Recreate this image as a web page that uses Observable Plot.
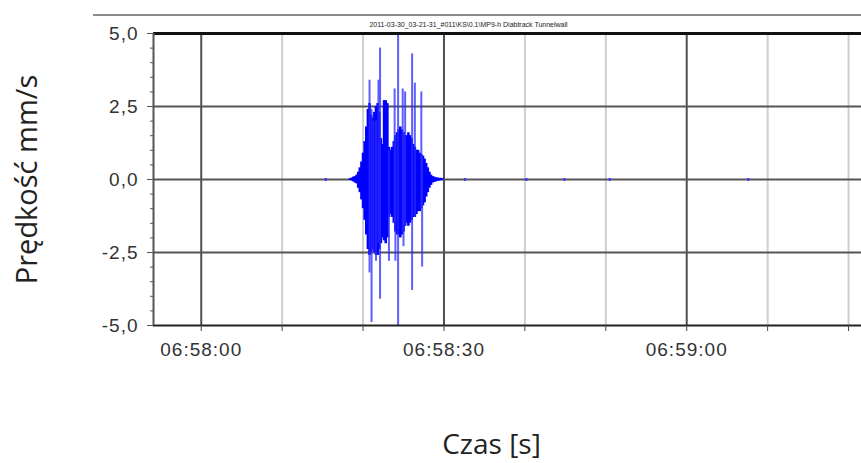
<!DOCTYPE html>
<html>
<head>
<meta charset="utf-8">
<script src="https://cdn.jsdelivr.net/npm/d3@7"></script>
<script src="https://cdn.jsdelivr.net/npm/@observablehq/plot@0.6"></script>
<style>
  html, body { margin: 0; padding: 0; background: #fff; }
  g[aria-label$="tick label"] text { letter-spacing: 1px; }
</style>
</head>
<body>
<div id="chart"></div>
<script>
// ---- data (seconds after 06:58:00) ----
const chartTitle = "2011-03-30_03-21-31_#011\\KS\\0.1\\MP9-h Diabtrack Tunnelwall";
const yTitle = "Prędkość mm/s";
const xTitle = "Czas [s]";

const burstSec   = [18.4, 18.6, 18.8, 19.0, 19.2, 19.4, 19.6, 19.8, 20.0, 20.2, 20.4, 20.6, 20.8, 21.0, 21.2, 21.4, 21.6, 21.8, 22.0, 22.2, 22.4, 22.6, 22.8, 23.0, 23.2, 23.4, 23.6, 23.8, 24.0, 24.2, 24.4, 24.6, 24.8, 25.0, 25.2, 25.4, 25.6, 25.8, 26.0, 26.2, 26.4, 26.6, 26.8, 27.0, 27.2, 27.4, 27.6, 27.8, 28.0, 28.2, 28.4, 28.6, 28.8, 29.0, 29.2, 29.4, 29.6, 29.8];
const burstUpper = [0.03, 0.05, 0.08, 0.10, 0.15, 0.25, 0.40, 0.60, 0.90, 1.30, 1.80, 2.40, 2.60, 2.20, 2.10, 2.30, 2.50, 2.60, 2.30, 1.40, 1.20, 2.70, 2.70, 2.60, 1.10, 1.00, 1.10, 1.30, 1.50, 1.60, 1.70, 1.80, 1.70, 1.60, 1.50, 1.50, 1.60, 1.50, 1.40, 1.20, 1.10, 1.00, 1.00, 0.90, 0.85, 0.80, 0.70, 0.55, 0.40, 0.25, 0.15, 0.10, 0.08, 0.06, 0.05, 0.04, 0.04, 0.03];
const burstLower = [-0.03, -0.05, -0.08, -0.12, -0.15, -0.30, -0.45, -0.70, -1.00, -1.40, -1.90, -2.40, -2.60, -2.50, -2.40, -2.50, -2.60, -2.60, -2.40, -2.20, -2.00, -2.10, -2.20, -2.00, -1.30, -1.20, -1.30, -1.50, -1.80, -1.90, -1.90, -2.00, -1.90, -1.80, -1.60, -1.50, -1.60, -1.50, -1.40, -1.30, -1.30, -1.20, -1.10, -1.10, -1.00, -0.90, -0.80, -0.60, -0.45, -0.30, -0.20, -0.12, -0.10, -0.08, -0.06, -0.05, -0.04, -0.03];

const spikeSec    = [20.8, 21.05, 21.3, 21.6, 21.9, 22.1, 23.2, 23.9, 24.0, 24.33, 24.9, 25.0, 25.2, 26.06, 26.4, 27.2, 27.3];
const spikeTop    = [3.4, 2.4, 2.0, 2.0, 3.4, 4.5, 1.0, 3.1, 1.5, 5.0, 3.1, 1.6, 3.0, 4.3, 3.3, 3.0, 0.8];
const spikeBottom = [-3.2, -4.9, -2.5, -2.8, -2.2, -4.1, -2.8, -1.5, -2.8, -5.0, -1.8, -2.3, -1.6, -3.8, -1.3, -1.0, -3.0];

const blipSec = [15.4, 32.6, 40.2, 44.9, 50.5, 67.6];
const blipVal = [0, 0, 0, 0, 0, 0];

const xMajorSec = [0, 30, 60];
const xMinorSec = [10, 20, 40, 50, 70, 80];
const xTickSec  = [0, 10, 20, 30, 40, 50, 60, 70, 80];
const yMajor = [-5, -2.5, 0, 2.5, 5];
const yGrid  = [-2.5, 0, 2.5];
const yMinor = [-4.5, -4, -3.5, -3, -2, -1.5, -1, -0.5, 0.5, 1, 1.5, 2, 3, 3.5, 4, 4.5];
const xDomainSec = [-5.9, 81.6];

// ---- helpers ----
const base = Date.UTC(2011, 2, 30, 6, 58, 0);
const T = s => new Date(base + s * 1000);
const timeFmt = d3.utcFormat("%H:%M:%S");
const numFmt = v => d3.format(".1f")(v).replace("−", "-").replace(".", ",");

const burst = burstSec.map((s, i) => ({t: T(s), lo: burstLower[i], hi: burstUpper[i]}));
const spikes = spikeSec.map((s, i) => ({t: T(s), lo: spikeBottom[i], hi: spikeTop[i]}));
const blips = blipSec.map((s, i) => ({t: T(s), v: blipVal[i]}));

const plot = Plot.plot({
  width: 861,
  height: 463,
  marginLeft: 153,
  marginRight: 0,
  marginTop: 33,
  marginBottom: 138,
  style: {fontFamily: "'Liberation Sans', Arial, sans-serif", fontSize: "19px", color: "#333", background: "#fff"},
  x: {type: "utc", domain: xDomainSec.map(T)},
  y: {domain: [-5, 5]},
  marks: [
    Plot.ruleX(xMinorSec.map(T), {stroke: "#cfcfcf", strokeWidth: 2}),
    Plot.ruleX(xMajorSec.map(T), {stroke: "#505050", strokeWidth: 2}),
    Plot.ruleY(yGrid, {stroke: "#555", strokeWidth: 2}),
    Plot.ruleX(burst, {x: "t", y1: "lo", y2: "hi", stroke: "#0000ff", strokeWidth: 2.6}),
    Plot.ruleX(spikes, {x: "t", y1: "lo", y2: "hi", stroke: "#2a2aff", strokeOpacity: 0.75, strokeWidth: 2}),
    Plot.dot(blips, {x: "t", y: "v", r: 1.4, fill: "#3333ff", stroke: null}),
    Plot.ruleY([5], {stroke: "#111", strokeWidth: 3}),
    Plot.ruleY([-5], {stroke: "#222", strokeWidth: 2}),
    Plot.ruleX([T(xDomainSec[0])], {stroke: "#555", strokeWidth: 2}),
    Plot.axisY({ticks: yMinor, tickSize: 3, tickFormat: () => "", stroke: "#555", label: null}),
    Plot.axisY({ticks: yMajor, tickSize: 6, tickPadding: 9, tickFormat: numFmt, stroke: "#555", fill: "#333", label: null}),
    Plot.axisX({ticks: xTickSec.map(T), tickSize: 6, tickPadding: 11, stroke: "#444", fill: "#333", label: null,
      tickFormat: d => ((d - base) / 1000) % 30 === 0 ? timeFmt(d) : ""}),
    Plot.text([yTitle], {frameAnchor: "left", dx: -126, rotate: -90, fontSize: 29, fontFamily: "'Open Sans', sans-serif", fill: "#222", textAnchor: "middle"}),
    Plot.text([xTitle], {frameAnchor: "bottom", dx: -16, dy: 120, fontSize: 28, fontFamily: "'Open Sans', sans-serif", fill: "#222", textAnchor: "middle", lineAnchor: "middle"}),
    Plot.text([chartTitle], {frameAnchor: "top", dx: -39, dy: -9, fontSize: 7, fill: "#222", textAnchor: "middle", lineAnchor: "middle"})
  ]
});

// window border line above the chart title
d3.select(plot).append("line")
  .attr("x1", 93).attr("x2", 861).attr("y1", 15).attr("y2", 15)
  .attr("stroke", "#666").attr("stroke-width", 1.5);

document.getElementById("chart").appendChild(plot);
</script>
</body>
</html>
